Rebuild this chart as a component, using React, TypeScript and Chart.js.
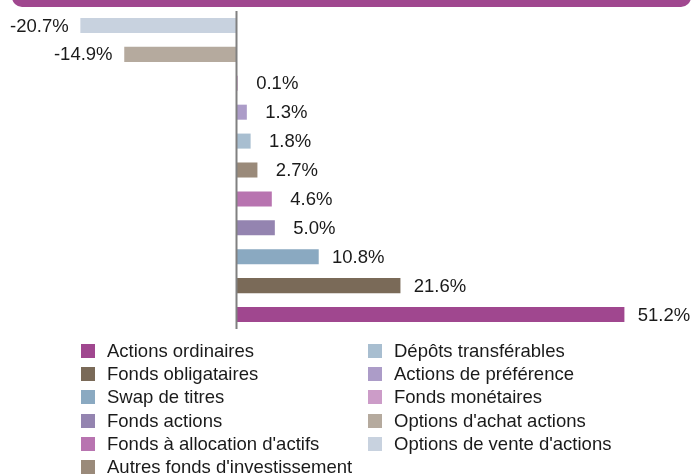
import { useEffect, useRef } from 'react';
import { Chart, registerables } from 'chart.js';

Chart.register(...registerables);

const categories = [
  "Options de vente d'actions",
  "Options d'achat actions",
  'Fonds monétaires',
  'Actions de préférence',
  'Dépôts transférables',
  "Autres fonds d'investissement",
  "Fonds à allocation d'actifs",
  'Fonds actions',
  'Swap de titres',
  'Fonds obligataires',
  'Actions ordinaires',
];
const values = [-20.7, -14.9, 0.1, 1.3, 1.8, 2.7, 4.6, 5.0, 10.8, 21.6, 51.2];
const colors = [
  '#c8d2df',
  '#b5aa9e',
  '#cc9cc8',
  '#ac9cc8',
  '#a8bed0',
  '#9a8a7a',
  '#b874b0',
  '#9484b0',
  '#8aa9c1',
  '#7a6a58',
  '#a0478f',
];
const valueLabels = values.map((v) => v.toFixed(1) + '%');
const legendColumn1 = [
  'Actions ordinaires',
  'Fonds obligataires',
  'Swap de titres',
  'Fonds actions',
  "Fonds à allocation d'actifs",
  "Autres fonds d'investissement",
];
const legendColumn2 = [
  'Dépôts transférables',
  'Actions de préférence',
  'Fonds monétaires',
  "Options d'achat actions",
  "Options de vente d'actions",
];

const FONT = '18.5px "Liberation Sans", Arial, sans-serif';

const overlayPlugin = {
  id: 'overlay',
  afterDatasetsDraw(chart: any) {
    const ctx = chart.ctx;
    const xs = chart.scales.x;
    const area = chart.chartArea;
    const px = Math.round(xs.getPixelForValue(0));
    ctx.save();
    ctx.fillStyle = '#808080';
    ctx.fillRect(px - 1.5, area.top, 2, area.bottom - area.top);

    ctx.font = FONT;
    ctx.fillStyle = '#1a1a1a';
    ctx.textAlign = 'center';
    ctx.textBaseline = 'middle';
    const meta = chart.getDatasetMeta(0);
    meta.data.forEach((bar: any, i: number) => {
      const v = values[i];
      const x = v >= 0 ? bar.x + 39.5 : bar.x - 41;
      ctx.fillText(valueLabels[i], x, bar.y + 1);
    });

    // legend
    const drawColumn = (items: string[], boxX: number) => {
      items.forEach((name, r) => {
        const cy = 351 + r * 23.2;
        const idx = categories.indexOf(name);
        ctx.fillStyle = colors[idx];
        ctx.fillRect(boxX, Math.round(cy - 7), 14, 14);
        ctx.fillStyle = '#1a1a1a';
        ctx.textAlign = 'left';
        ctx.textBaseline = 'middle';
        ctx.fillText(name, boxX + 26, cy + 1);
      });
    };
    drawColumn(legendColumn1, 81);
    drawColumn(legendColumn2, 368);
    ctx.restore();
  },
};

export default function App() {
  const ref = useRef<HTMLCanvasElement | null>(null);
  useEffect(() => {
    if (!ref.current) return;
    const chart = new Chart(ref.current, {
      type: 'bar',
      data: {
        labels: categories,
        datasets: [
          {
            data: values,
            backgroundColor: colors,
            borderWidth: 0,
            barPercentage: 0.52,
            categoryPercentage: 1,
          },
        ],
      },
      options: {
        indexAxis: 'y',
        responsive: false,
        animation: false,
        devicePixelRatio: 1,
        layout: { padding: { left: 10, right: 0, top: 11, bottom: 147 } },
        plugins: { legend: { display: false }, tooltip: { enabled: false } },
        scales: {
          x: { type: 'linear', min: -30, max: 60, display: false },
          y: { display: false },
        },
      },
      plugins: [overlayPlugin],
    });
    return () => chart.destroy();
  }, []);
  return (
    <div style={{ position: 'absolute', left: 0, top: 0, width: 691, height: 476, overflow: 'hidden', background: '#fff' }}>
      <div
        style={{
          position: 'absolute',
          left: 12,
          top: -14,
          width: 679,
          height: 21,
          background: '#a0478f',
          borderRadius: 10,
        }}
      />
      <canvas ref={ref} width={691} height={476} style={{ position: 'absolute', left: 0, top: 0 }} />
    </div>
  );
}
